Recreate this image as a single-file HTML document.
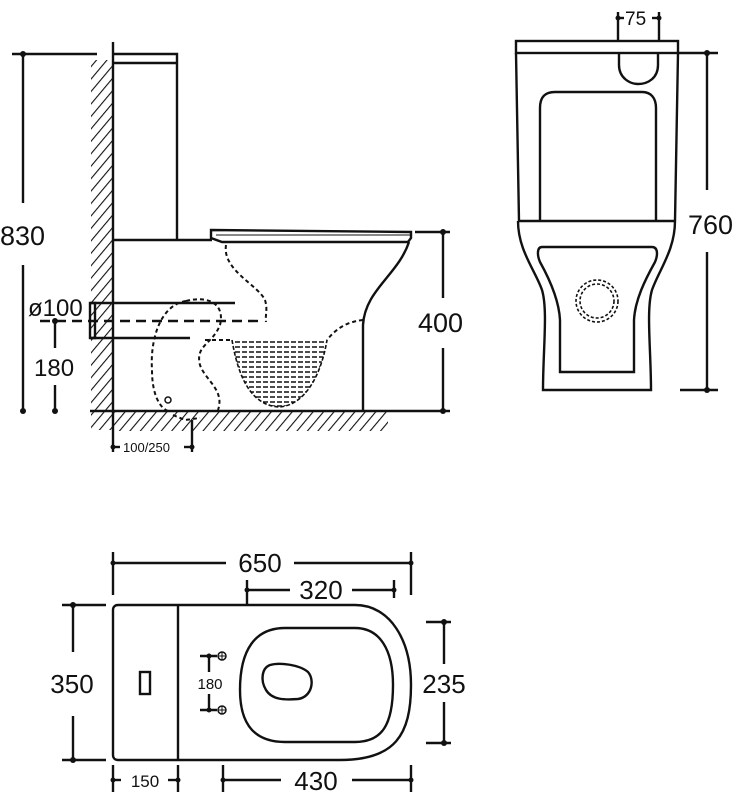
<!DOCTYPE html>
<html><head><meta charset="utf-8"><style>
html,body{margin:0;padding:0;background:#fff}
svg{display:block}
text{font-family:"Liberation Sans",sans-serif;fill:#111}
</style></head><body>
<svg width="742" height="800" viewBox="0 0 742 800" xmlns="http://www.w3.org/2000/svg">
<defs>
<pattern id="h" width="8" height="8" patternUnits="userSpaceOnUse" patternTransform="rotate(40)">
<line x1="0" y1="0" x2="0" y2="8" stroke="#111" stroke-width="2.2"/>
</pattern>
<clipPath id="bowl"><path d="M232,340 L327,340 C322,370 308,404 280,407 C250,406 238,375 232,340 Z"/></clipPath>
</defs>
<g stroke="#111" stroke-width="2.4" fill="none">
<!-- SIDE VIEW -->
<rect x="91" y="60" width="22" height="370" fill="url(#h)" stroke="none"/>
<rect x="113" y="411" width="275" height="20" fill="url(#h)" stroke="none"/>
<line x1="113" y1="42" x2="113" y2="430"/>
<line x1="90" y1="411" x2="450" y2="411"/>
<line x1="12" y1="54" x2="97" y2="54"/>
<line x1="23" y1="54" x2="23" y2="203"/>
<line x1="23" y1="265" x2="23" y2="411"/>
<path d="M113,54 H177 V240"/>
<line x1="113" y1="63" x2="176" y2="63"/>
<line x1="113" y1="240" x2="212" y2="240"/>
<path d="M211,230 L411,232 L411,238 L408,242 L222,242 L211,238 Z"/>
<line x1="216" y1="235" x2="410" y2="235" stroke-width="1"/>
<path d="M409,242 C398,275 365,290 363,325 L363,411"/>
<line x1="415" y1="232" x2="450" y2="232"/>
<line x1="443" y1="232" x2="443" y2="298"/>
<line x1="443" y1="348" x2="443" y2="411"/>
<rect x="90" y="303" width="5" height="35"/>
<line x1="90" y1="303" x2="235" y2="303"/>
<line x1="90" y1="338" x2="190" y2="338"/>
<line x1="40" y1="321" x2="262" y2="321" stroke-dasharray="10,6"/>
<line x1="55" y1="321" x2="55" y2="348"/>
<line x1="55" y1="385" x2="55" y2="411"/>
<g stroke-dasharray="4,3" stroke-width="2">
<path d="M226,245 C222,270 258,285 265,300 C268,310 265,315 266,322"/>
<path d="M363,320 C345,322 335,330 327,340"/>
<path d="M205,340 L232,340"/>
<path d="M186,301 C210,295 225,305 220,325 C212,345 195,345 200,365 C205,380 225,390 218,410"/>
<path d="M186,301 C160,305 150,340 152,370 C152,395 160,408 168,411"/>
<path d="M173,415 L185,420 L200,418"/>
</g>
<circle cx="168" cy="400" r="3" stroke-width="1.5"/>
<g clip-path="url(#bowl)" stroke-width="1.6" stroke-dasharray="5,2">
<line x1="228" y1="342" x2="332" y2="342"/><line x1="228" y1="347" x2="332" y2="347"/>
<line x1="228" y1="352" x2="332" y2="352"/><line x1="228" y1="357" x2="332" y2="357"/>
<line x1="228" y1="362" x2="332" y2="362"/><line x1="228" y1="367" x2="332" y2="367"/>
<line x1="228" y1="372" x2="332" y2="372"/><line x1="228" y1="377" x2="332" y2="377"/>
<line x1="228" y1="382" x2="332" y2="382"/><line x1="228" y1="387" x2="332" y2="387"/>
<line x1="228" y1="392" x2="332" y2="392"/><line x1="228" y1="397" x2="332" y2="397"/>
<line x1="228" y1="402" x2="332" y2="402"/><line x1="228" y1="406" x2="332" y2="406"/>
</g>
<path d="M232,340 C238,375 250,406 280,407 C308,404 322,370 327,340" stroke-dasharray="4,2" stroke-width="1.6"/>
<line x1="113" y1="430" x2="113" y2="452"/>
<line x1="192" y1="420" x2="192" y2="452"/>
<line x1="113" y1="447" x2="120" y2="447"/>
<line x1="184" y1="447" x2="192" y2="447"/>

<!-- FRONT VIEW -->
<rect x="516" y="41" width="162" height="12"/>
<line x1="618" y1="12" x2="618" y2="41"/>
<line x1="659" y1="12" x2="659" y2="41"/>
<line x1="618" y1="18" x2="624" y2="18"/><line x1="652" y1="18" x2="659" y2="18"/>
<path d="M619,53 V65 C619,78 630,84 638,84 C648,84 658,78 658,65 V53"/>
<path d="M516,53 L519,221 M678,53 L675,221"/>
<path d="M540,220 V108 C540,96 546,92 555,92 H642 C651,92 656,98 656,108 V220"/>
<line x1="518" y1="221" x2="675" y2="221"/>
<path d="M518,221 C518,250 535,270 542,290 C548,310 543,350 543,390 H651 C651,350 646,310 652,290 C659,270 675,250 675,221"/>
<path d="M542,247 H652 C658,247 658,255 655,262 C645,280 635,300 634,320 L634,372 H560 L560,320 C559,300 550,280 540,262 C537,255 537,247 542,247 Z"/>
<circle cx="597" cy="301" r="17" stroke-dasharray="3,2" stroke-width="1.6"/>
<circle cx="597" cy="301" r="21" stroke-dasharray="3,2" stroke-width="1.6"/>
<line x1="678" y1="53" x2="718" y2="53"/>
<line x1="680" y1="390" x2="718" y2="390"/>
<line x1="707" y1="53" x2="707" y2="190"/>
<line x1="707" y1="252" x2="707" y2="390"/>

<!-- TOP VIEW -->
<path d="M118,605 H355 C390,605 411,640 411,685 C411,735 395,760 340,760 H118 C115,760 113,758 113,755 V610 C113,607 115,605 118,605 Z"/>
<line x1="178" y1="605" x2="178" y2="760"/>
<rect x="140" y="672" width="10" height="22"/>
<path d="M285,628 H355 C380,628 393,650 393,685 C393,725 382,742 355,742 H285 C255,742 240,725 240,690 C240,650 255,628 285,628 Z"/>
<path d="M270,665 C280,662 300,665 308,672 C315,680 312,697 298,699 C285,700 272,700 266,690 C260,680 262,668 270,665 Z"/>
<line x1="209" y1="656" x2="209" y2="672"/><line x1="209" y1="694" x2="209" y2="710"/>
<line x1="200" y1="656" x2="217" y2="656"/><line x1="200" y1="710" x2="217" y2="710"/>
<circle cx="222" cy="656" r="4" stroke-width="1.5"/><circle cx="222" cy="710" r="4" stroke-width="1.5"/>
<line x1="218" y1="656" x2="226" y2="656" stroke-width="1"/><line x1="222" y1="652" x2="222" y2="660" stroke-width="1"/>
<line x1="218" y1="710" x2="226" y2="710" stroke-width="1"/><line x1="222" y1="706" x2="222" y2="714" stroke-width="1"/>
<line x1="113" y1="552" x2="113" y2="595"/><line x1="411" y1="552" x2="411" y2="595"/>
<line x1="113" y1="563" x2="226" y2="563"/><line x1="294" y1="563" x2="411" y2="563"/>
<line x1="247" y1="580" x2="247" y2="605"/><line x1="394" y1="580" x2="394" y2="598"/>
<line x1="247" y1="590" x2="290" y2="590"/><line x1="352" y1="590" x2="394" y2="590"/>
<line x1="62" y1="605" x2="106" y2="605"/><line x1="62" y1="760" x2="106" y2="760"/>
<line x1="73" y1="605" x2="73" y2="652"/><line x1="73" y1="716" x2="73" y2="760"/>
<line x1="426" y1="622" x2="451" y2="622"/><line x1="426" y1="743" x2="451" y2="743"/>
<line x1="444" y1="622" x2="444" y2="664"/><line x1="444" y1="702" x2="444" y2="743"/>
<line x1="113" y1="765" x2="113" y2="792"/><line x1="178" y1="765" x2="178" y2="792"/>
<line x1="113" y1="780" x2="121" y2="780"/><line x1="168" y1="780" x2="178" y2="780"/>
<line x1="223" y1="765" x2="223" y2="792"/><line x1="411" y1="765" x2="411" y2="792"/>
<line x1="223" y1="780" x2="281" y2="780"/><line x1="352" y1="780" x2="411" y2="780"/>
</g>
<g fill="#111">
<circle cx="23" cy="54" r="3"/><circle cx="23" cy="411" r="3"/>
<circle cx="443" cy="232" r="3"/><circle cx="443" cy="411" r="3"/>
<circle cx="55" cy="321" r="3"/><circle cx="55" cy="411" r="3"/>
<circle cx="113" cy="447" r="2.5"/><circle cx="192" cy="447" r="2.5"/>
<circle cx="618" cy="18" r="2.5"/><circle cx="659" cy="18" r="2.5"/>
<circle cx="707" cy="53" r="3"/><circle cx="707" cy="390" r="3"/>
<circle cx="113" cy="563" r="2.5"/><circle cx="411" cy="563" r="2.5"/>
<circle cx="247" cy="590" r="2.5"/><circle cx="394" cy="590" r="2.5"/>
<circle cx="73" cy="605" r="3"/><circle cx="73" cy="760" r="3"/>
<circle cx="444" cy="622" r="3"/><circle cx="444" cy="743" r="3"/>
<circle cx="113" cy="780" r="2.5"/><circle cx="178" cy="780" r="2.5"/>
<circle cx="223" cy="780" r="2.5"/><circle cx="411" cy="780" r="2.5"/>
<circle cx="209" cy="656" r="2.5"/><circle cx="209" cy="710" r="2.5"/>
</g>
<text x="0" y="245" font-size="27">830</text>
<text x="418" y="332" font-size="27">400</text>
<text x="28" y="316" font-size="24">ø100</text>
<text x="34" y="376" font-size="24">180</text>
<text x="123" y="452" font-size="13">100/250</text>
<text x="625" y="25" font-size="19">75</text>
<text x="688" y="234" font-size="27">760</text>
<text x="260" y="572" font-size="26" text-anchor="middle">650</text>
<text x="321" y="599" font-size="26" text-anchor="middle">320</text>
<text x="72" y="693" font-size="26" text-anchor="middle">350</text>
<text x="444" y="693" font-size="26" text-anchor="middle">235</text>
<text x="210" y="689" font-size="15" text-anchor="middle">180</text>
<text x="145" y="787" font-size="17" text-anchor="middle">150</text>
<text x="316" y="790" font-size="26" text-anchor="middle">430</text>
</svg>
</body></html>
